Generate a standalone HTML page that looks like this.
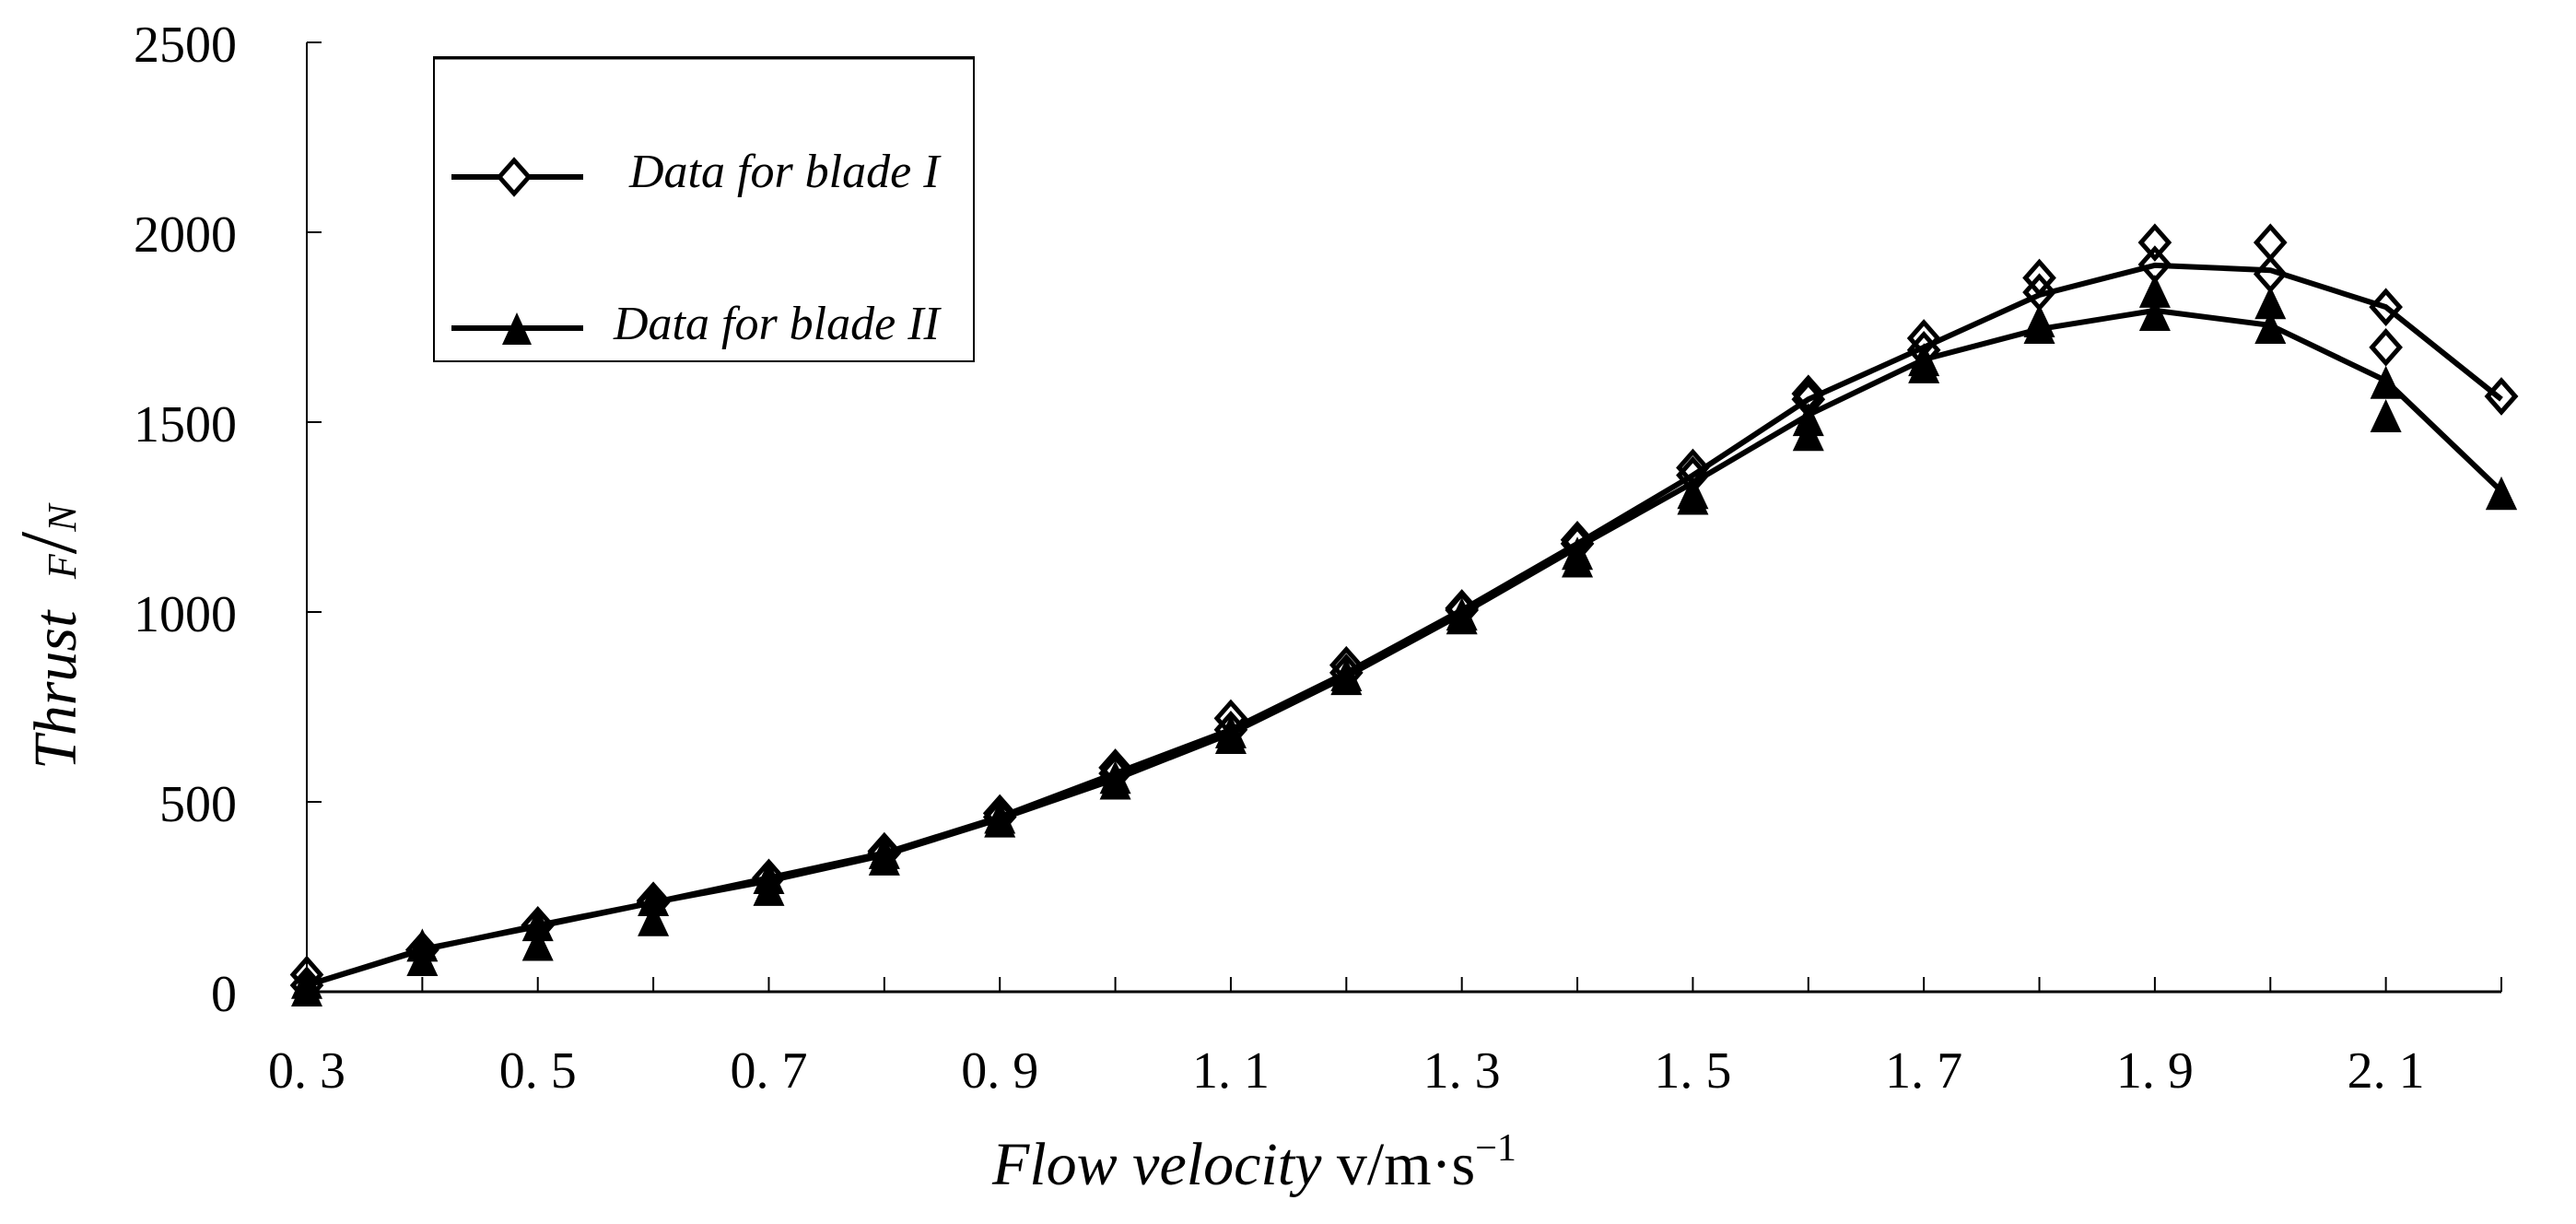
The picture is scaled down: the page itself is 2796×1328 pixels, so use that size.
<!DOCTYPE html>
<html><head><meta charset="utf-8">
<style>
html,body{margin:0;padding:0;background:#fff;}
svg{display:block;}
text{font-family:"Liberation Serif",serif;fill:#000;}
</style></head>
<body>
<svg id="chart" width="2796" height="1328" viewBox="0 0 2796 1328" xmlns="http://www.w3.org/2000/svg">
<g id="axes"></g>
<g id="series"></g>
<g>
  <rect x="471" y="62" width="586" height="330" fill="#fff" stroke="#000" stroke-width="2"/>
  <line x1="471" y1="63" x2="1057" y2="63" stroke="#000" stroke-width="3"/>
  <g>
    <line x1="490" y1="192" x2="633" y2="192" stroke="#000" stroke-width="6"/>
    <polygon points="558,174 574,192 558,210 542,192" fill="#fff" stroke="#000" stroke-width="5"/>
    <text x="683" y="203" font-size="52" font-style="italic">Data for blade I</text>
  </g>
  <g>
    <line x1="490" y1="356" x2="633" y2="356" stroke="#000" stroke-width="6"/>
    <polygon points="561,339 577,374 545,374" fill="#000"/>
    <text x="666" y="368" font-size="52" font-style="italic">Data for blade II</text>
  </g>
</g>
<text transform="translate(82,835) rotate(-90)" font-size="66" font-style="italic">Thrust <tspan font-size="44" dx="18">F</tspan><tspan font-size="88" font-style="normal">/</tspan><tspan font-size="44">N</tspan></text>
<text x="1077" y="1285" font-size="66"><tspan font-style="italic">Flow velocity</tspan> v/m·s<tspan font-size="42" dy="-26">−1</tspan></text>
</svg>
<script>
const xValues = [0.3,0.4,0.5,0.6,0.7,0.8,0.9,1.0,1.1,1.2,1.3,1.4,1.5,1.6,1.7,1.8,1.9,2.0,2.1,2.2];
const blade1Line = [17,110,175,235,300,365,460,575,690,840,1005,1180,1360,1560,1697,1835,1913,1900,1803,1560];
const blade1MarksA = [45,110,175,240,300,370,470,590,720,860,1010,1190,1380,1575,1721,1880,1973,1973,1803,1568];
const blade1MarksB = [17,110,175,235,300,365,460,575,690,840,1005,1180,1360,1560,1690,1842,1915,1890,1697,1568];
const blade2Line = [17,112,172,235,292,360,455,560,680,830,995,1170,1340,1519,1665,1745,1794,1755,1609,1318];
const blade2MarksA = [20,118,172,238,296,362,455,560,680,830,990,1150,1310,1502,1660,1762,1840,1810,1600,1308];
const blade2MarksB = [0,80,120,185,265,345,445,545,665,820,980,1130,1295,1463,1641,1745,1779,1745,1512,1308];
const yTicks = [0,500,1000,1500,2000,2500];
const xTickVals = [0.3,0.4,0.5,0.6,0.7,0.8,0.9,1.0,1.1,1.2,1.3,1.4,1.5,1.6,1.7,1.8,1.9,2.0,2.1,2.2];
const xTickLabels = ["0. 3","","0. 5","","0. 7","","0. 9","","1. 1","","1. 3","","1. 5","","1. 7","","1. 9","","2. 1",""];

const NS="http://www.w3.org/2000/svg";
const X0=333, X1=2715, Y0=1076, YT=46;
function sx(v){return X0+(v-0.3)/(2.2-0.3)*(X1-X0);}
function sy(v){return Y0-v/2500*(Y0-YT);}
function mk(tag,attrs,parent){const e=document.createElementNS(NS,tag);for(const k in attrs)e.setAttribute(k,attrs[k]);parent.appendChild(e);return e;}
const axes=document.getElementById('axes'), ser=document.getElementById('series');

let yl=mk('line',{x1:X0,y1:YT,x2:X0,y2:Y0,stroke:'#000','stroke-width':2},axes);


let xl=mk('line',{x1:X0,y1:Y0,x2:X1,y2:Y0,stroke:'#000','stroke-width':3},axes);


yTicks.forEach(v=>{
  const t=mk('line',{x1:X0,y1:sy(v),x2:X0+16,y2:sy(v),stroke:'#000','stroke-width':2},axes);
  
  
  const l=mk('text',{x:257,y:sy(v)+21,'font-size':56,'text-anchor':'end'},axes);
  l.textContent=String(v);
  
  
});
xTickVals.forEach((v,i)=>{
  const t=mk('line',{x1:sx(v),y1:Y0,x2:sx(v),y2:Y0-16,stroke:'#000','stroke-width':2},axes);
  
  
  if(xTickLabels[i]){
    const l=mk('text',{x:sx(v),y:1180,'font-size':56,'text-anchor':'middle'},axes);
    l.textContent=xTickLabels[i];
    
    
  }
});
function line(vals,name){
  const p=mk('polyline',{points:vals.map((v,i)=>sx(xValues[i])+','+sy(v)).join(' '),fill:'none',stroke:'#000','stroke-width':6,'stroke-linejoin':'round'},ser);
  
  
}
function diamonds(vals,name){
  vals.forEach((v,i)=>{
    const x=sx(xValues[i]),y=sy(v);
    const d=mk('polygon',{points:`${x},${y-17} ${x+15},${y} ${x},${y+17} ${x-15},${y}`,fill:'none',stroke:'#000','stroke-width':5},ser);
    
    
  });
}
function triangles(vals,name){
  vals.forEach((v,i)=>{
    const x=sx(xValues[i]),y=sy(v);
    const d=mk('polygon',{points:`${x},${y-20} ${x+17},${y+16} ${x-17},${y+16}`,fill:'#000'},ser);
    
    
  });
}
line(blade2Line,'blade-2-line');
line(blade1Line,'blade-1-line');
triangles(blade2MarksB,'blade-2-marker');
triangles(blade2MarksA,'blade-2-marker');
diamonds(blade1MarksB,'blade-1-marker');
diamonds(blade1MarksA,'blade-1-marker');
</script>
</body></html>
